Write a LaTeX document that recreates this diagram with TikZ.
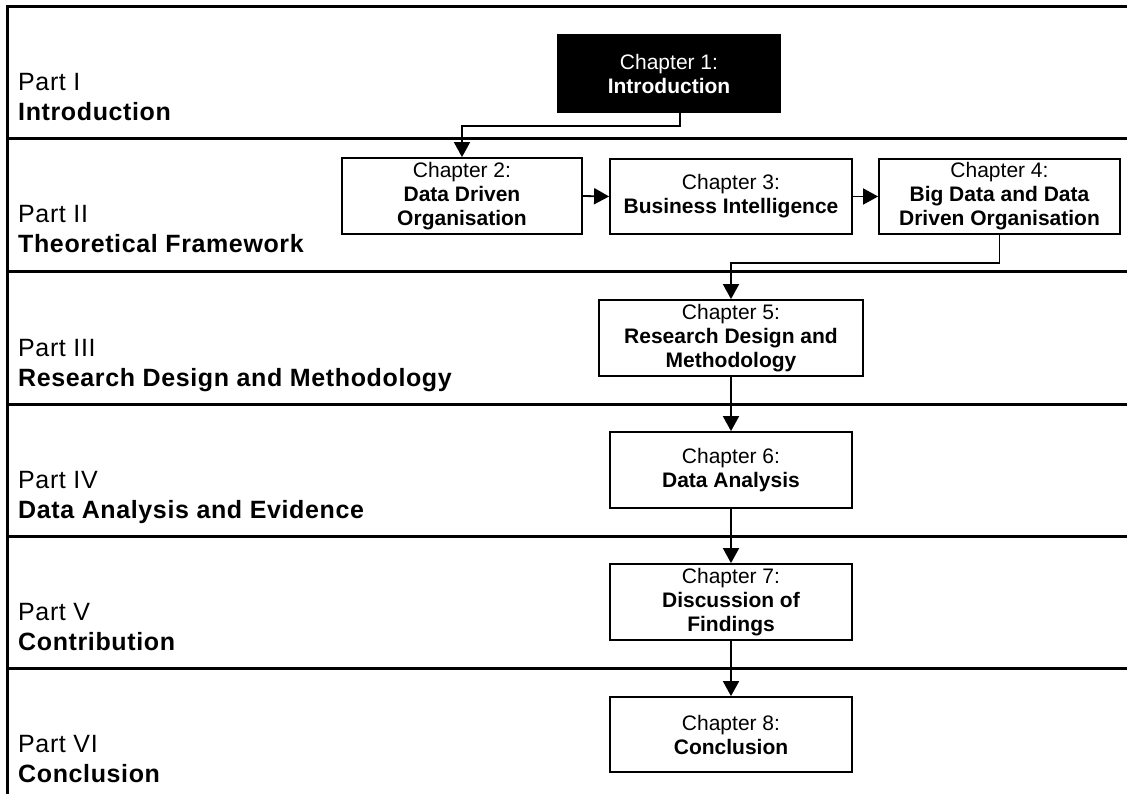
\documentclass[tikz,border=0pt]{standalone}
\usepackage{fontspec}
\setmainfont{Liberation Sans}
\newfontfamily\partfont[LetterSpace=2.5]{Liberation Sans}
\usetikzlibrary{arrows.meta}
\begin{document}
\begin{tikzpicture}[x=1pt,y=-1pt,
  band/.style={line width=3pt},
  partno/.style={anchor=base west,inner sep=0pt,font=\partfont\fontsize{25}{30}\selectfont},
  partname/.style={anchor=base west,inner sep=0pt,font=\partfont\fontsize{25}{30}\selectfont\bfseries},
  chapbox/.style={draw,line width=1.8pt,align=center,inner sep=0pt,
    font=\fontsize{21}{24}\selectfont},
  arr/.style={line width=1.8pt,-{Triangle[width=16pt,length=15pt]}}]
\useasboundingbox (0,0) rectangle (1127,794);

% frame and band separators
\draw[band] (7,794) -- (7,7) -- (1127,7);
\foreach \y in {139,272,404,536,668}
  \draw[band] (7,\y) -- (1127,\y);

% part labels
\node[partno]   (p1)  at (18,91)  {Part I};
\node[partname] (p1n) at (18,121) {Introduction};
\node[partno]   (p2)  at (18,223) {Part II};
\node[partname] (p2n) at (18,253) {Theoretical Framework};
\node[partno]   (p3)  at (18,356) {Part III};
\node[partname] (p3n) at (18,386) {Research Design and Methodology};
\node[partno]   (p4)  at (18,488) {Part IV};
\node[partname] (p4n) at (18,518) {Data Analysis and Evidence};
\node[partno]   (p5)  at (18,620) {Part V};
\node[partname] (p5n) at (18,650) {Contribution};
\node[partno]   (p6)  at (18,752) {Part VI};
\node[partname] (p6n) at (18,782) {Conclusion};

% chapter boxes
\node[chapbox,fill=black,text=white,minimum width=222pt,minimum height=77pt]
  (ch1) at (669,73.5) {Chapter 1:\\\textbf{Introduction}};
\node[chapbox,minimum width=240pt,minimum height=76pt]
  (ch2) at (462,196) {Chapter 2:\\\textbf{Data Driven}\\\textbf{Organisation}};
\node[chapbox,minimum width=242pt,minimum height=75pt]
  (ch3) at (731,196.5) {Chapter 3:\\\textbf{Business Intelligence}};
\node[chapbox,minimum width=241pt,minimum height=75pt]
  (ch4) at (999.5,196.5) {Chapter 4:\\\textbf{Big Data and Data}\\\textbf{Driven Organisation}};
\node[chapbox,minimum width=264pt,minimum height=76pt]
  (ch5) at (731,338) {Chapter 5:\\\textbf{Research Design and}\\\textbf{Methodology}};
\node[chapbox,minimum width=242pt,minimum height=76pt]
  (ch6) at (731,470) {Chapter 6:\\\textbf{Data Analysis}};
\node[chapbox,minimum width=242pt,minimum height=76pt]
  (ch7) at (731,602) {Chapter 7:\\\textbf{Discussion of}\\\textbf{Findings}};
\node[chapbox,minimum width=242pt,minimum height=75pt]
  (ch8) at (731,734.5) {Chapter 8:\\\textbf{Conclusion}};

% connectors
\draw[arr] ([xshift=11pt]ch1.south) -- ++(0,13) -| (ch2.north);
\draw[arr] (ch2.east) -- (ch3.west);
\draw[arr] (ch3.east) -- (ch4.west);
\draw[arr] (ch4.south) -- ++(0,28) -| (ch5.north);
\draw[arr] (ch5.south) -- (ch6.north);
\draw[arr] (ch6.south) -- (ch7.north);
\draw[arr] (ch7.south) -- (ch8.north);
\end{tikzpicture}
\end{document}
